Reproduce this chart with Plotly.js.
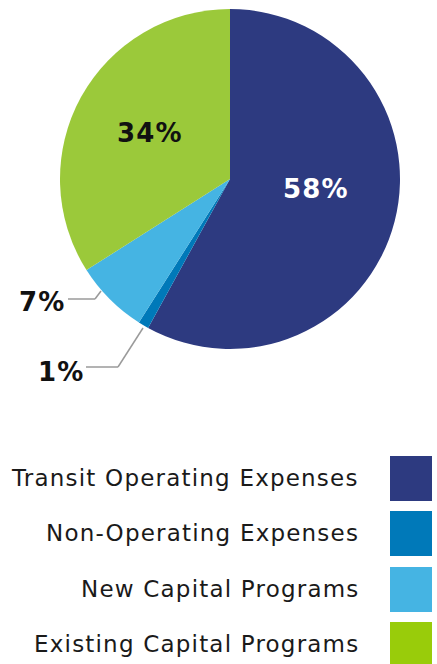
<!DOCTYPE html>
<html><head><meta charset="utf-8">
<script src="https://cdn.plot.ly/plotly-3.0.1.min.js"></script>
<style>html,body{margin:0;padding:0;background:#fff}#chart{width:437px;height:664px}
.annotation-text{letter-spacing:1.2px}</style>
</head><body><div id="chart"></div>
<script>
const categories = ["Transit Operating Expenses", "Non-Operating Expenses", "New Capital Programs", "Existing Capital Programs"];
const values = [58, 1, 7, 34];
const labelsText = ["58%", "1%", "7%", "34%"];
const colors = ["#2D3A80", "#0079B9", "#45B4E3", "#9BC93A"];
const swatchColors = ["#2D3A80", "#0079B9", "#45B4E3", "#99CC0A"];

const W = 437, H = 664;
const px = x => x / W, py = y => 1 - y / H;
const FONT = "DejaVu Sans, sans-serif";

const data = [{
  type: "pie",
  labels: categories,
  values: values,
  sort: false,
  direction: "clockwise",
  rotation: 0,
  textinfo: "none",
  hoverinfo: "label+percent",
  marker: {colors: colors, line: {width: 0}},
  domain: {x: [px(60), px(400)], y: [py(350), py(8)]},
  showlegend: false
}];

const labelPos = [[316, 189, "#ffffff"], [62, 372, "#111111"], [42, 302, "#111111"], [150, 133, "#111111"]];
const annotations = [];
labelsText.forEach((t, i) => {
  annotations.push({xref: "paper", yref: "paper", x: px(labelPos[i][0]), y: py(labelPos[i][1]),
    text: "<b>" + t + "</b>", showarrow: false, xanchor: "center", yanchor: "middle",
    font: {family: FONT, size: 26, color: labelPos[i][2]}});
});
const shapes = [];
function poly(pts) {
  for (let i = 0; i < pts.length - 1; i++) {
    shapes.push({type: "line", xref: "paper", yref: "paper",
      x0: px(pts[i][0]), y0: py(pts[i][1]), x1: px(pts[i+1][0]), y1: py(pts[i+1][1]),
      line: {color: "#9a9a9a", width: 1.5}});
  }
}
poly([[68, 299], [95, 299], [101, 291]]);
poly([[86, 367], [118, 367], [143, 328]]);

const legendY = [478, 533, 589, 644];
categories.forEach((c, i) => {
  annotations.push({xref: "paper", yref: "paper", x: px(361), y: py(legendY[i]), text: c,
    showarrow: false, xanchor: "right", yanchor: "middle",
    font: {family: FONT, size: 23, color: "#1a1a1a"}});
  shapes.push({type: "rect", xref: "paper", yref: "paper",
    x0: px(390), x1: px(432), y0: py(legendY[i] - 22), y1: py(legendY[i] + 23),
    fillcolor: swatchColors[i], line: {width: 0}});
});

Plotly.newPlot("chart", data, {
  width: W, height: H,
  margin: {l: 0, r: 0, t: 0, b: 0},
  paper_bgcolor: "#ffffff",
  annotations: annotations,
  shapes: shapes,
  showlegend: false
}, {displayModeBar: false, staticPlot: true});
</script></body></html>
